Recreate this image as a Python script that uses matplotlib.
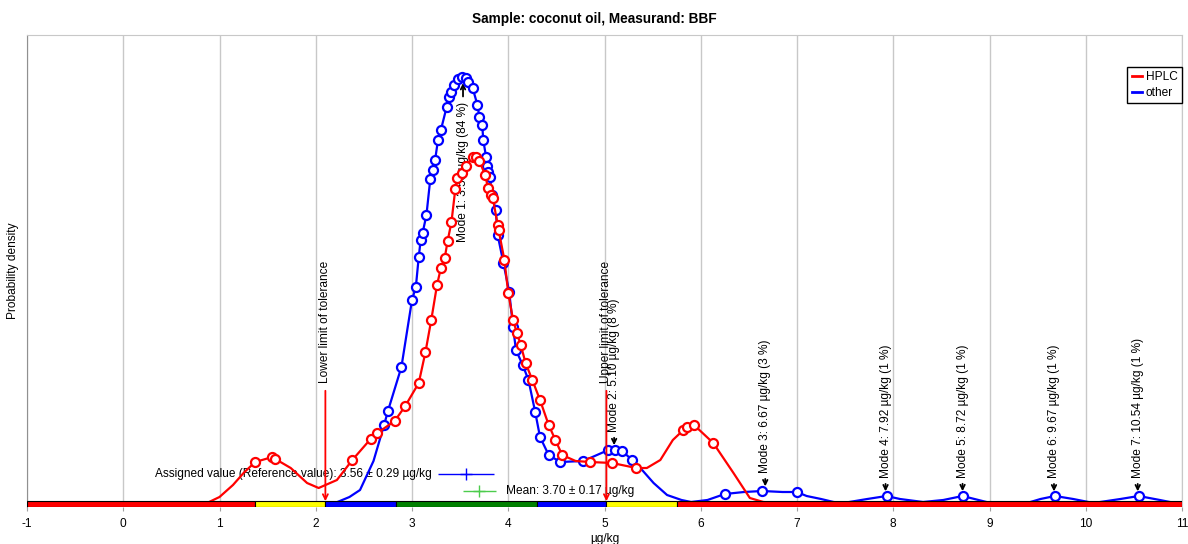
import numpy as np
import matplotlib
matplotlib.use('Agg')
import matplotlib.pyplot as plt
from matplotlib.lines import Line2D

plt.rcParams['font.family'] = ['Liberation Sans', 'DejaVu Sans']
plt.rcParams['axes.unicode_minus'] = False

# "other" curve: points with circle markers, then extra points of the smooth line
blue_mk_x = [2.71, 2.75, 2.89, 3.00, 3.04, 3.07, 3.09, 3.11, 3.15, 3.19, 3.22, 3.24, 3.27, 3.30,
             3.36, 3.38, 3.40, 3.44, 3.48, 3.52, 3.56, 3.58, 3.63, 3.68, 3.70, 3.73, 3.74, 3.77,
             3.78, 3.79, 3.81, 3.83, 3.87, 3.89, 3.95, 4.01, 4.05, 4.08, 4.15, 4.21, 4.28, 4.33,
             4.42, 4.54, 4.78, 5.04, 5.11, 5.18, 5.29, 6.25, 6.64, 7.00, 7.93, 8.72, 9.68, 10.55]
blue_mk_y = [0.78, 0.92, 1.36, 2.03, 2.16, 2.46, 2.63, 2.70, 2.88, 3.24, 3.33, 3.43, 3.63, 3.73,
             3.96, 4.06, 4.11, 4.18, 4.24, 4.26, 4.25, 4.21, 4.15, 3.98, 3.86, 3.78, 3.63, 3.46,
             3.37, 3.31, 3.26, 3.08, 2.93, 2.68, 2.40, 2.11, 1.76, 1.53, 1.38, 1.23, 0.91, 0.66,
             0.48, 0.41, 0.42, 0.53, 0.53, 0.52, 0.43, 0.09, 0.12, 0.11, 0.07, 0.07, 0.07, 0.07]
blue_ln_x = [-1.0, 2.05, 2.2, 2.35, 2.46, 2.6, 5.4, 5.51, 5.65, 5.8, 5.9, 6.07, 6.45, 6.85, 7.1,
             7.25, 7.38, 7.48, 7.73, 8.07, 8.31, 8.52, 9.01, 9.2, 9.39, 9.53, 9.87, 10.08, 10.36,
             10.77, 10.98, 11.0]
blue_ln_y = [-0.02, -0.02, 0.0, 0.06, 0.13, 0.42, 0.32, 0.20, 0.08, 0.03, 0.01, 0.03, 0.11, 0.11,
             0.07, 0.04, 0.01, 0.0, 0.04, 0.04, 0.01, 0.03, 0.0, 0.0, 0.0, 0.04, 0.04, 0.0, 0.04,
             0.03, -0.01, -0.02]

# HPLC curve
red_mk_x = [1.37, 1.55, 1.58, 2.38, 2.57, 2.64, 2.82, 2.93, 3.07, 3.14, 3.20, 3.26, 3.30, 3.34,
            3.37, 3.41, 3.45, 3.47, 3.52, 3.56, 3.63, 3.66, 3.70, 3.76, 3.79, 3.82, 3.84, 3.89,
            3.90, 3.96, 4.00, 4.05, 4.09, 4.13, 4.18, 4.25, 4.33, 4.42, 4.49, 4.56, 4.85, 5.08,
            5.33, 5.82, 5.86, 5.93, 6.13]
red_mk_y = [0.41, 0.46, 0.44, 0.43, 0.64, 0.70, 0.82, 0.97, 1.20, 1.51, 1.83, 2.18, 2.35, 2.45,
            2.62, 2.81, 3.14, 3.25, 3.30, 3.37, 3.46, 3.46, 3.42, 3.28, 3.15, 3.08, 3.05, 2.78,
            2.73, 2.43, 2.10, 1.83, 1.70, 1.58, 1.40, 1.23, 1.03, 0.78, 0.63, 0.48, 0.41, 0.40,
            0.35, 0.73, 0.76, 0.78, 0.60]
red_ln_x = [-1.0, 0.87, 1.0, 1.14, 1.25, 1.74, 1.91, 2.03, 2.22, 4.7, 5.44, 5.58, 5.71, 6.34,
            6.51, 6.65, 6.8, 11.0]
red_ln_y = [0.0, 0.0, 0.06, 0.18, 0.30, 0.35, 0.20, 0.15, 0.23, 0.42, 0.35, 0.43, 0.63, 0.30,
            0.05, 0.01, 0.0, 0.0]

# modes of the "other" distribution
mode_x = [3.53, 5.10, 6.67, 7.92, 8.72, 9.67, 10.54]
mode_pct = [84, 8, 3, 1, 1, 1, 1]

# z-score band along the axis
band_edges = [-1.0, 1.37, 2.10, 2.83, 4.30, 5.02, 5.75, 11.0]
band_colors = ['#ff0000', '#ffff00', '#0000ff', '#008000', '#0000ff', '#ffff00', '#ff0000']

lower_tol = 2.10
upper_tol = 5.02
assigned, assigned_u = 3.56, 0.29
mean, mean_u = 3.70, 0.17

FS = 8.6


def merge(mx, my, lx, ly):
    x = np.array(mx + lx)
    y = np.array(my + ly)
    o = np.argsort(x, kind='stable')
    return x[o], y[o]


fig = plt.figure(figsize=(11.88, 5.44), dpi=100)
ax = fig.add_axes([27 / 1188, 37 / 544, 1155 / 1188, 472 / 544])

bx, by = merge(blue_mk_x, blue_mk_y, blue_ln_x, blue_ln_y)
rx, ry = merge(red_mk_x, red_mk_y, red_ln_x, red_ln_y)

for i in range(len(band_colors)):
    ax.barh(-0.01, band_edges[i + 1] - band_edges[i], left=band_edges[i], height=0.055,
            color=band_colors[i], edgecolor='k', lw=0.8, zorder=4.5)

ax.plot(bx, by, color='blue', lw=1.6, zorder=3)
ax.plot(blue_mk_x, blue_mk_y, 'o', ms=6.5, mfc='white', mec='blue', mew=1.6, zorder=3)
ax.plot(rx, ry, color='red', lw=1.6, zorder=4)
ax.plot(red_mk_x, red_mk_y, 'o', ms=6.5, mfc='white', mec='red', mew=1.6, zorder=4)

# mode arrows and labels
for i in range(len(mode_x)):
    m = mode_x[i]
    pk = np.interp(m, bx, by)
    label = 'Mode %d: %.2f µg/kg (%d %%)' % (i + 1, m, mode_pct[i])
    if i == 0:
        ax.annotate('', xy=(m, pk - 0.03), xytext=(m, pk - 0.22),
                    arrowprops=dict(arrowstyle='->', color='k', lw=1.3, mutation_scale=8), zorder=1)
        ax.text(m, pk - 0.25, label, rotation=90, ha='center', va='top', fontsize=FS, zorder=1)
    else:
        ax.annotate('', xy=(m, pk + 0.02), xytext=(m, pk + 0.15),
                    arrowprops=dict(arrowstyle='->', color='k', lw=1.3, mutation_scale=8), zorder=5)
        ax.text(m, pk + 0.18, label, rotation=90, ha='center', va='bottom', fontsize=FS, zorder=1)

# tolerance limits
for xv, txt in [(lower_tol, 'Lower limit of tolerance'), (upper_tol, 'Upper limit of tolerance')]:
    ax.annotate('', xy=(xv, -0.01), xytext=(xv, 1.15),
                arrowprops=dict(arrowstyle='->', color='red', lw=1.3, mutation_scale=9), zorder=5)
    ax.text(xv, 1.20, txt, rotation=90, ha='center', va='bottom', fontsize=FS, zorder=1)

# assigned value and mean
ax.errorbar(assigned, 0.29, xerr=assigned_u, fmt='+', color='blue', ms=9, mew=1,
            elinewidth=1, capsize=0, zorder=5)
ax.text(assigned - assigned_u - 0.06, 0.29,
        'Assigned value (Reference value): %.2f ± %.2f µg/kg' % (assigned, assigned_u),
        ha='right', va='center', fontsize=FS, zorder=1)
ax.errorbar(mean, 0.12, xerr=mean_u, fmt='+', color='#4ccc4c', ms=9, mew=1,
            elinewidth=1, capsize=0, zorder=5)
ax.text(mean + mean_u + 0.11, 0.12, 'Mean: %.2f ± %.2f µg/kg' % (mean, mean_u),
        ha='left', va='center', fontsize=FS, zorder=1)

ax.set_xlim(-1, 11)
ax.set_ylim(-0.04, 4.68)
ax.set_xticks(range(-1, 12))
ax.set_yticks([])
ax.tick_params(axis='x', length=3, color='#a0a0a0', labelsize=FS, pad=5)
ax.grid(axis='x', color='#c8c8c8', lw=1, zorder=0)
ax.set_axisbelow(True)
ax.spines['left'].set_color('#909090')
ax.spines['top'].set_color('#c8c8c8')
ax.spines['right'].set_color('#c8c8c8')
ax.spines['bottom'].set_visible(False)

ax.set_xlabel('µg/kg', fontsize=FS, labelpad=2)
ax.set_ylabel('Probability density', fontsize=FS, labelpad=6)
fig.text(0.5, 1 - 19 / 544, 'Sample: coconut oil, Measurand: BBF', fontsize=9.8,
         fontweight='bold', ha='center', va='center')

handles = [Line2D([], [], color='red', lw=2), Line2D([], [], color='blue', lw=2)]
ax.legend(handles, ['HPLC', 'other'], loc='upper right', bbox_to_anchor=(1.0, 0.932),
          borderaxespad=0, fontsize=FS, fancybox=False, edgecolor='k', framealpha=1,
          handlelength=0.9, handletextpad=0.3, labelspacing=0.3, borderpad=0.35)

fig.savefig('out.png', dpi=100)
